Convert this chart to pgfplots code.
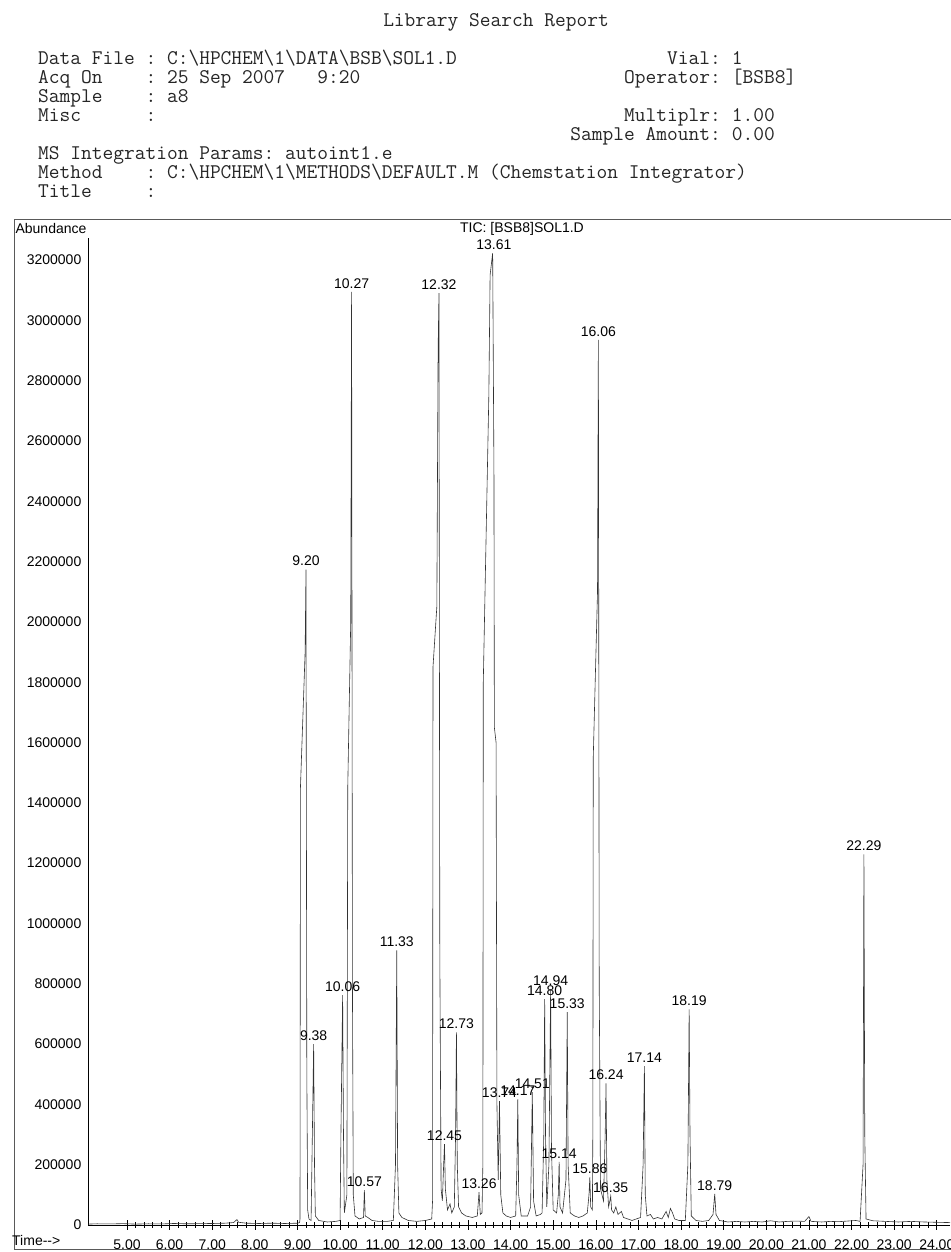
\documentclass[border=0pt]{standalone}
\usepackage{fontspec}
\setmainfont{Liberation Sans}
\usepackage{pgfplots}
\pgfplotsset{compat=1.18}
\pgfplotstableread{
t v
4.09 3000
4.30 4000
4.60 3500
4.90 4500
5.20 3000
5.50 4000
5.80 3500
6.10 5000
6.40 4000
6.70 4500
7.00 5000
7.30 6000
7.50 8000
7.58 18000
7.62 9000
7.80 6000
8.10 5000
8.40 6000
8.70 5000
9.00 6000
9.05 8000
9.06 20000
9.07 1450000
9.18 1900000
9.20 2173000
9.22 500000
9.24 50000
9.27 20000
9.32 15000
9.36 400000
9.38 600000
9.40 200000
9.42 30000
9.50 15000
9.70 10000
9.90 12000
10.00 15000
10.02 300000
10.06 762000
10.08 300000
10.10 40000
10.16 100000
10.18 1450000
10.25 2000000
10.27 3094000
10.29 800000
10.31 100000
10.35 30000
10.45 20000
10.55 25000
10.57 116000
10.59 30000
10.65 25000
10.75 15000
10.90 12000
11.10 12000
11.25 15000
11.30 200000
11.33 911000
11.35 200000
11.38 40000
11.45 25000
11.60 15000
11.80 12000
12.00 15000
12.15 20000
12.17 80000
12.18 1850000
12.27 2050000
12.30 2900000
12.32 3090000
12.34 900000
12.37 120000
12.40 80000
12.43 200000
12.45 268000
12.47 120000
12.52 50000
12.58 70000
12.62 40000
12.68 60000
12.71 300000
12.73 639000
12.75 200000
12.78 60000
12.85 40000
12.95 30000
13.10 25000
13.22 30000
13.26 109000
13.29 35000
13.33 40000
13.35 200000
13.36 1800000
13.49 2750000
13.52 3150000
13.58 3223000
13.61 2500000
13.62 1650000
13.66 1600000
13.68 400000
13.71 150000
13.74 411000
13.77 100000
13.82 40000
13.90 30000
14.00 25000
14.12 30000
14.15 200000
14.17 417000
14.19 100000
14.25 30000
14.40 30000
14.47 60000
14.51 441000
14.54 80000
14.60 30000
14.70 35000
14.74 40000
14.78 300000
14.80 749000
14.82 300000
14.85 60000
14.90 200000
14.94 782000
14.96 250000
15.00 50000
15.08 40000
15.12 100000
15.14 209000
15.16 60000
15.22 40000
15.30 150000
15.33 706000
15.35 200000
15.40 40000
15.50 30000
15.60 25000
15.70 30000
15.80 40000
15.84 100000
15.86 159000
15.88 60000
15.92 50000
15.93 300000
15.94 1550000
16.04 2100000
16.06 2935000
16.08 800000
16.11 120000
16.18 80000
16.22 300000
16.24 470000
16.26 150000
16.30 60000
16.33 80000
16.35 96000
16.37 50000
16.42 40000
16.47 60000
16.52 35000
16.60 45000
16.65 25000
16.75 20000
16.85 15000
16.95 20000
17.05 25000
17.11 200000
17.14 527000
17.16 100000
17.20 30000
17.28 35000
17.35 20000
17.45 25000
17.55 20000
17.65 45000
17.70 25000
17.75 55000
17.80 40000
17.85 20000
17.95 15000
18.10 15000
18.16 200000
18.19 715000
18.21 300000
18.24 30000
18.35 15000
18.50 12000
18.65 15000
18.75 35000
18.79 103000
18.82 35000
18.90 15000
19.10 10000
19.30 12000
19.50 10000
19.70 12000
19.90 10000
20.10 14000
20.30 10000
20.50 12000
20.70 13000
20.90 12000
21.00 28000
21.05 12000
21.30 10000
21.50 12000
21.70 11000
21.90 13000
22.10 15000
22.20 12000
22.27 200000
22.29 1229000
22.31 300000
22.34 20000
22.50 14000
22.80 12000
23.10 10000
23.40 12000
23.70 10000
24.00 9000
24.31 8000
}\tic
\pgfplotstableread{
t v l
9.20 2173000 9.20
9.38 600000 9.38
10.06 762000 10.06
10.27 3094000 10.27
10.57 116000 10.57
11.33 911000 11.33
12.32 3090000 12.32
12.45 268000 12.45
12.73 639000 12.73
13.26 109000 13.26
13.61 3223000 13.61
13.74 411000 13.74
14.17 417000 14.17
14.51 441000 14.51
14.80 749000 14.80
14.94 782000 14.94
15.14 209000 15.14
15.33 706000 15.33
15.86 159000 15.86
16.06 2935000 16.06
16.24 470000 16.24
16.35 96000 16.35
17.14 527000 17.14
18.19 715000 18.19
18.79 103000 18.79
22.29 1229000 22.29
}\peaks
\begin{document}
\begin{tikzpicture}[x=1pt,y=1pt]
\useasboundingbox (0,0) rectangle (950,1252);
\fill[white] (0,0) rectangle (950,1252);
% header
\begin{scope}[every node/.style={inner sep=0pt, text=black!85, font=\ttfamily\fontsize{20.85}{22}\selectfont}]
\node[anchor=base] at (496,1225) {Library~Search~Report};
\node[anchor=base west] at (38,1187) {Data~File~:~C:\textbackslash HPCHEM\textbackslash 1\textbackslash DATA\textbackslash BSB\textbackslash SOL1.D};
\node[anchor=base west] at (38,1168) {Acq~On~~~~:~25~Sep~2007~~~9:20};
\node[anchor=base west] at (38,1149) {Sample~~~~:~a8};
\node[anchor=base west] at (38,1130) {Misc~~~~~~:};
\node[anchor=base west] at (38,1092) {MS~Integration~Params:~autoint1.e};
\node[anchor=base west] at (38,1073) {Method~~~~:~C:\textbackslash HPCHEM\textbackslash 1\textbackslash METHODS\textbackslash DEFAULT.M~(Chemstation~Integrator)};
\node[anchor=base west] at (38,1054) {Title~~~~~:};
\node[anchor=base east] at (721,1187) {Vial:};
\node[anchor=base west] at (721,1187) {~1};
\node[anchor=base east] at (721,1168) {Operator:};
\node[anchor=base west] at (721,1168) {~[BSB8]};
\node[anchor=base east] at (721,1130) {Multiplr:};
\node[anchor=base west] at (721,1130) {~1.00};
\node[anchor=base east] at (721,1111) {Sample~Amount:};
\node[anchor=base west] at (721,1111) {~0.00};
\end{scope}
% frame
\draw[black!65, line width=1pt] (14,2) rectangle (965,1032);
\node[inner sep=0pt, font=\fontsize{14}{16}\selectfont] at (51,1023) {Abundance};
\node[inner sep=0pt, font=\fontsize{14}{16}\selectfont] at (522,1023) {TIC: [BSB8]SOL1.D};
\node[inner sep=0pt, anchor=base west, font=\fontsize{14}{16}\selectfont] at (12,6) {Time-{}-{}>};
\begin{axis}[
  at={(88pt,27pt)}, anchor=south west, scale only axis,
  width=862pt, height=987pt,
  xmin=4.086, xmax=24.31, ymin=0, ymax=3273000,
  axis x line*=bottom, axis y line*=left,
  axis line style={black, line width=0.8pt},
  xtick={5,6,7,8,9,10,11,12,13,14,15,16,17,18,19,20,21,22,23,24},
  minor x tick num=4,
  tick align=center, major tick length=9pt, minor tick length=5pt,
  tick style={black, line width=0.6pt},
  ytick={0,200000,400000,600000,800000,1000000,1200000,1400000,1600000,1800000,2000000,2200000,2400000,2600000,2800000,3000000,3200000},
  ytick style={draw=none},
  scaled y ticks=false, scaled x ticks=false,
  /pgf/number format/assume math mode=true,
  yticklabel style={/pgf/number format/fixed, /pgf/number format/1000 sep={}, anchor=east, inner sep=0pt, xshift=-2pt},
  xticklabel style={/pgf/number format/fixed, /pgf/number format/fixed zerofill, /pgf/number format/precision=2, anchor=north, inner sep=0pt, yshift=-10pt},
  tick label style={font=\fontsize{14}{16}\selectfont},
  clip=false,
]
\addplot[black!80, line width=0.6pt, mark=none] table[x=t, y=v] {\tic};
\addplot[only marks, mark=none, nodes near coords, point meta=explicit symbolic,
  nodes near coords style={anchor=south, inner sep=0pt, yshift=3.5pt, font=\fontsize{14}{16}\selectfont}]
  table[x=t, y=v, meta=l] {\peaks};
\end{axis}
\end{tikzpicture}
\end{document}
